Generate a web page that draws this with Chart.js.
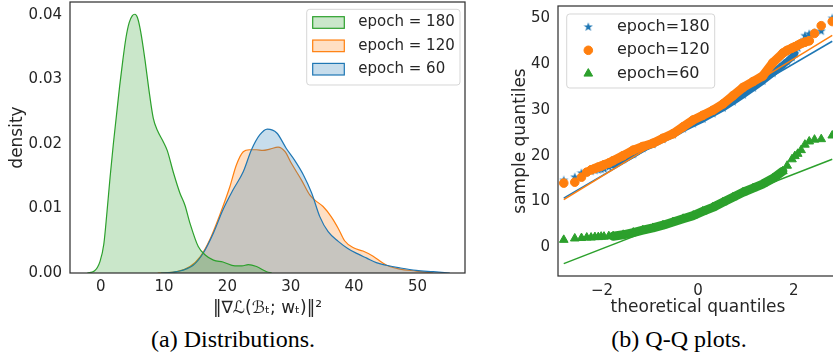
<!DOCTYPE html>
<html>
<head>
<meta charset="utf-8">
<script src="https://cdn.jsdelivr.net/npm/chart.js@4"></script>
<style>
  html, body { margin: 0; padding: 0; background: #fff; }
  body { width: 833px; height: 359px; overflow: hidden; position: relative; }
  canvas { position: absolute; top: 0; }
  #kde { left: 0; }
  #qq { left: 480px; }
  .cap {
    position: absolute; top: 327px;
    font-family: "Liberation Serif", "Times New Roman", serif;
    font-size: 24px; line-height: 24px; color: #000;
    white-space: nowrap; transform: translateX(-50%);
  }
</style>
</head>
<body>
<canvas id="kde" width="480" height="325"></canvas>
<canvas id="qq" width="370" height="325"></canvas>
<div class="cap" style="left:233px">(a) Distributions.</div>
<div class="cap" style="left:679px">(b) Q-Q plots.</div>
<script>
// (a) density curves
const kdeX180 = [-2.1, -1.0, -0.1, 0.5, 1.0, 1.5, 2.0, 2.5, 3.0, 3.5, 4.0, 4.5, 5.0, 5.4, 5.8, 6.3, 7.0, 7.6, 8.3, 9.0, 9.8, 10.5, 11.5, 12.5, 13.3, 14.1, 15.4, 16.5, 17.8, 19.3, 21.2, 22.3, 23.3, 24.6, 26.2, 27.0];
const kdeY180 = [0, 0.0003, 0.0018, 0.0045, 0.0095, 0.0150, 0.0200, 0.0245, 0.0290, 0.0330, 0.0365, 0.0388, 0.0399, 0.0401, 0.0396, 0.0375, 0.0330, 0.0285, 0.0240, 0.0220, 0.0205, 0.0190, 0.0155, 0.0124, 0.0105, 0.0077, 0.0041, 0.0028, 0.0020, 0.0017, 0.0011, 0.0011, 0.0013, 0.0010, 0.0002, 0];
const kdeX120 = [9.0, 12.0, 14.1, 15.7, 17.2, 18.8, 20.4, 21.4, 22.5, 23.5, 24.6, 25.6, 26.7, 28.0, 29.1, 30.1, 31.7, 33.0, 33.8, 35.1, 36.4, 37.5, 38.5, 39.9, 41.4, 43.0, 44.6, 45.6, 47.2, 49.8, 52.5];
const kdeY120 = [0, 0.0002, 0.0010, 0.0025, 0.0051, 0.0090, 0.0134, 0.0167, 0.0188, 0.0191, 0.0191, 0.0190, 0.0192, 0.0195, 0.0188, 0.0170, 0.0144, 0.0121, 0.0113, 0.0103, 0.0087, 0.0069, 0.0050, 0.0039, 0.0034, 0.0026, 0.0015, 0.0010, 0.0006, 0.0003, 0];
const kdeX60 = [9.5, 12.0, 14.6, 16.2, 17.8, 19.3, 20.9, 22.5, 23.8, 25.1, 26.3, 27.8, 29.3, 30.6, 32.0, 33.3, 34.6, 35.9, 37.5, 39.0, 40.5, 42.0, 43.5, 45.1, 47.2, 49.8, 52.5, 55.1];
const kdeY60 = [0, 0.0002, 0.0012, 0.0031, 0.0062, 0.0098, 0.0129, 0.0157, 0.0191, 0.0214, 0.0223, 0.0217, 0.0193, 0.0175, 0.0152, 0.0124, 0.0087, 0.0064, 0.0049, 0.0038, 0.0030, 0.0023, 0.0016, 0.0012, 0.0008, 0.0004, 0.0002, 0];
const kdeXTicks = [0, 10, 20, 30, 40, 50];
const kdeYTicks = [0, 0.01, 0.02, 0.03, 0.04];

// (b) Q-Q plot: theoretical vs sample quantiles
const qqTheory = [-2.80, -2.57, -2.43, -2.32, -2.23, -2.15, -2.08, -2.02, -1.96, -1.86, -1.77, -1.56, -1.35, -1.15, -0.94, -0.73, -0.52, -0.31, -0.10, 0.10, 0.31, 0.52, 0.73, 0.94, 1.15, 1.35, 1.56, 1.77, 1.86, 1.96, 2.02, 2.08, 2.15, 2.23, 2.32, 2.43, 2.57, 2.80];
const qq180 = [14.6, 15.3, 16.2, 16.4, 16.6, 16.8, 16.9, 17.0, 17.1, 17.5, 18.0, 19.2, 20.3, 21.6, 22.5, 23.6, 24.6, 25.9, 27.0, 28.0, 29.2, 30.4, 31.8, 33.3, 34.8, 36.3, 38.0, 39.8, 40.6, 41.5, 42.3, 43.5, 44.8, 46.2, 46.6, 46.9, 47.2, 50.0];
const qq120 = [14.0, 14.2, 15.3, 16.4, 16.9, 17.2, 17.5, 17.7, 18.0, 18.4, 18.9, 20.0, 21.2, 22.0, 22.7, 23.8, 24.8, 26.3, 27.8, 28.8, 29.9, 31.3, 33.1, 34.9, 36.2, 37.4, 40.3, 42.4, 43.0, 43.5, 43.8, 44.1, 44.5, 44.8, 45.1, 46.7, 48.4, 49.3];
const qq60 = [1.6, 1.9, 2.0, 2.1, 2.1, 2.2, 2.2, 2.3, 2.3, 2.4, 2.4, 2.7, 3.2, 3.7, 4.2, 4.8, 5.5, 6.2, 6.9, 7.8, 8.7, 9.8, 10.9, 12.0, 12.9, 13.8, 15.0, 16.6, 17.8, 19.2, 19.9, 20.4, 21.2, 22.4, 23.1, 23.5, 23.6, 24.4];
const fitX = [-2.8, 2.8];
const fit180 = [10.7, 45.0];
const fit120 = [10.4, 46.3];
const fit60 = [-3.6, 19.2];
const qqXTicks = [-2, 0, 2];
const qqYTicks = [0, 10, 20, 30, 40, 50];

const BLUE = '#1f77b4', ORANGE = '#ff7f0e', GREEN = '#2ca02c';
const INK = '#262626';

Chart.defaults.font.family = "'DejaVu Sans', sans-serif";
Chart.defaults.color = INK;

const pts = (xs, ys) => xs.map((x, i) => ({ x, y: ys[i] }));
const fixX = h => s => { s.height = h; s.paddingLeft = 0; s.paddingRight = 0; s.paddingTop = 0; s.paddingBottom = 0; };
const fixY = w => s => { s.width = w; s.paddingLeft = 0; s.paddingRight = 0; s.paddingTop = 0; s.paddingBottom = 0; };
const useTicks = list => s => { s.ticks = list.map(value => ({ value })); };
const minus = v => (v < 0 ? '\u2212' + (-v) : String(v));

// axes box on all four sides
const frame = {
  id: 'frame',
  afterDatasetsDraw(chart) {
    const { ctx, chartArea: a } = chart;
    ctx.save();
    ctx.strokeStyle = '#333';
    ctx.lineWidth = 1.25;
    ctx.strokeRect(a.left, a.top, a.right - a.left, a.bottom - a.top);
    ctx.restore();
  }
};

function legendBox(id, p, drawMark) {
  return {
    id,
    afterDraw(chart) {
      const { ctx, chartArea: a } = chart;
      const left = p.fromRight ? a.right - p.dx - p.w : a.left + p.dx;
      const top = a.top + p.dy;
      ctx.save();
      ctx.beginPath();
      ctx.roundRect(left, top, p.w, p.h, 3);
      ctx.fillStyle = 'rgba(255,255,255,0.8)';
      ctx.fill();
      ctx.strokeStyle = 'rgba(204,204,204,0.8)';
      ctx.lineWidth = 1;
      ctx.stroke();
      chart.data.datasets.slice(0, 3).forEach((ds, i) => {
        const cy = top + p.rowTop + i * p.rowGap;
        drawMark(ctx, ds, left + p.markX, cy);
        ctx.fillStyle = INK;
        ctx.font = p.font;
        ctx.textBaseline = 'middle';
        ctx.textAlign = 'left';
        ctx.fillText(ds.label, left + p.textX, cy);
      });
      ctx.restore();
    }
  };
}

// ---------- (a) distributions ----------
const kdeSet = (label, xs, ys, color, fillColor, order) => ({
  label, order,
  data: pts(xs, ys),
  borderColor: color,
  backgroundColor: fillColor,
  borderWidth: 1.2,
  fill: 'origin',
  pointRadius: 0,
  cubicInterpolationMode: 'monotone'
});

new Chart(document.getElementById('kde'), {
  type: 'line',
  data: {
    datasets: [
      kdeSet('epoch = 180', kdeX180, kdeY180, GREEN, 'rgba(44,160,44,0.25)', 0),
      kdeSet('epoch = 120', kdeX120, kdeY120, ORANGE, 'rgba(255,127,14,0.25)', 2),
      kdeSet('epoch = 60', kdeX60, kdeY60, BLUE, 'rgba(31,119,180,0.25)', 1)
    ]
  },
  options: {
    animation: false,
    responsive: false,
    layout: { padding: { top: 2, right: 15, left: 0, bottom: 0 } },
    plugins: { legend: { display: false }, tooltip: { enabled: false } },
    scales: {
      x: {
        type: 'linear', min: -4.84, max: 57.5,
        grid: { display: false, drawTicks: false },
        border: { display: false },
        afterBuildTicks: useTicks(kdeXTicks),
        afterFit: fixX(52),
        ticks: { padding: 5, font: { size: 15 }, callback: v => String(v) },
        title: { display: true, text: '‖∇ℒ(ℬₜ; wₜ)‖²', font: { size: 17 }, padding: { top: 0, bottom: 6 } }
      },
      y: {
        type: 'linear', min: 0, max: 0.042,
        grid: { display: false, drawTicks: false },
        border: { display: false },
        afterBuildTicks: useTicks(kdeYTicks),
        afterFit: fixY(70),
        ticks: { padding: 8, font: { size: 15 }, callback: v => v.toFixed(2) },
        title: { display: true, text: 'density', font: { size: 17 }, padding: { top: 7, bottom: 0 } }
      }
    }
  },
  plugins: [frame, legendBox('kdeLegend', {
    fromRight: true, dx: 5, dy: 7.3, w: 153.3, h: 75.7,
    rowTop: 13.2, rowGap: 23.35, markX: 6, textX: 51.6, font: "15px 'DejaVu Sans'"
  }, (ctx, ds, x, y) => {
    ctx.fillStyle = ds.backgroundColor;
    ctx.fillRect(x, y - 5.8, 31.6, 11.6);
    ctx.strokeStyle = ds.borderColor;
    ctx.lineWidth = 1.2;
    ctx.strokeRect(x, y - 5.8, 31.6, 11.6);
  })]
});

// ---------- (b) Q-Q plots ----------
const star = document.createElement('canvas');
star.width = star.height = 10;
const sc = star.getContext('2d');
sc.fillStyle = BLUE;
sc.beginPath();
for (let k = 0; k < 10; k++) {
  const rr = k % 2 ? 2.0 : 4.8;
  const ang = -Math.PI / 2 + k * Math.PI / 5;
  sc.lineTo(5 + rr * Math.cos(ang), 5 + rr * Math.sin(ang));
}
sc.closePath();
sc.fill();

// dense middle of each sample is drawn as a thick band, the tails as single markers
const qqSet = (label, ys, color, style, r, band, width, order) => ({
  label, order,
  data: pts(qqTheory, ys),
  pointStyle: style,
  pointRadius: r,
  pointBackgroundColor: color,
  pointBorderColor: color,
  pointBorderWidth: 1,
  showLine: true,
  borderColor: color,
  borderWidth: width,
  borderCapStyle: 'round',
  borderJoinStyle: 'round',
  segment: {
    borderColor: c => (c.p0DataIndex >= band[0] && c.p1DataIndex <= band[1] ? color : 'transparent')
  }
});
const fitSet = (ys, color, order) => ({
  label: '', order,
  data: pts(fitX, ys),
  showLine: true,
  borderColor: color,
  borderWidth: 1.5,
  pointRadius: 0
});

new Chart(document.getElementById('qq'), {
  type: 'scatter',
  data: {
    datasets: [
      qqSet('epoch=180', qq180, BLUE, star, 5, [10, 30], 7, 6),
      qqSet('epoch=120', qq120, ORANGE, 'circle', 4.3, [4, 34], 9, 4),
      qqSet('epoch=60', qq60, GREEN, 'triangle', 5, [10, 27], 9, 2),
      fitSet(fit180, BLUE, 5),
      fitSet(fit120, ORANGE, 3),
      fitSet(fit60, GREEN, 1)
    ]
  },
  options: {
    animation: false,
    responsive: false,
    layout: { padding: { top: 3, right: 12, left: 0, bottom: 0 } },
    plugins: { legend: { display: false }, tooltip: { enabled: false } },
    scales: {
      x: {
        type: 'linear', min: -2.92, max: 2.92,
        grid: { display: false, drawTicks: false },
        border: { display: false },
        afterBuildTicks: useTicks(qqXTicks),
        afterFit: fixX(49),
        ticks: { padding: 6, font: { size: 15 }, callback: minus },
        title: { display: true, text: 'theoretical quantiles', font: { size: 17 }, padding: { top: 0, bottom: 7.5 } }
      },
      y: {
        type: 'linear', min: -6.3, max: 52.7,
        grid: { display: false, drawTicks: false },
        border: { display: false },
        afterBuildTicks: useTicks(qqYTicks),
        afterFit: fixY(78),
        ticks: { padding: 8, font: { size: 15 }, callback: minus },
        title: { display: true, text: 'sample quantiles', font: { size: 17 }, padding: { top: 30.5, bottom: 0 } }
      }
    }
  },
  plugins: [frame, legendBox('qqLegend', {
    fromRight: false, dx: 8.7, dy: 8, w: 148, h: 74,
    rowTop: 13, rowGap: 23.3, markX: 21.6, textX: 50.3, font: "16px 'DejaVu Sans'"
  }, (ctx, ds, x, y) => {
    ctx.fillStyle = ds.pointBackgroundColor;
    ctx.strokeStyle = ds.pointBorderColor;
    ctx.lineWidth = 1;
    Chart.helpers.drawPoint(ctx, { pointStyle: ds.pointStyle, radius: ds.pointRadius, rotation: 0, borderWidth: 1 }, x, y);
  })]
});
</script>
</body>
</html>
